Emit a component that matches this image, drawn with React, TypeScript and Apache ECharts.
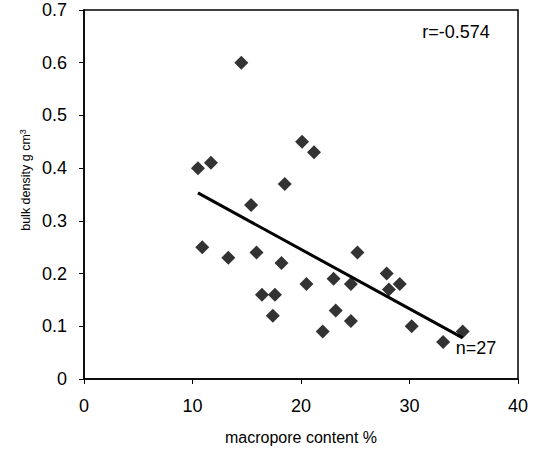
import React, { useEffect, useRef } from "react";
import * as echarts from "echarts";

const macropore = [
  14.5, 10.5, 11.7, 20.1, 21.2, 18.5, 15.4, 10.9, 13.3, 15.9, 18.2, 16.4, 17.6, 17.4,
  20.5, 23.0, 23.2, 22.0, 24.6, 24.6, 25.2, 27.9, 28.1, 29.1, 30.2, 33.1, 34.9,
];
const bulkDensity = [
  0.6, 0.4, 0.41, 0.45, 0.43, 0.37, 0.33, 0.25, 0.23, 0.24, 0.22, 0.16, 0.16, 0.12,
  0.18, 0.19, 0.13, 0.09, 0.18, 0.11, 0.24, 0.2, 0.17, 0.18, 0.1, 0.07, 0.09,
];
const trendX = [10.5, 34.9];
const trendY = [0.353, 0.078];
const rText = "r=-0.574";
const nText = "n=27";
const xName = "macropore content %";
const yName = "bulk density g cm";
const ySup = "3";

const FONT = "Liberation Sans, Arial, sans-serif";

export default function App() {
  const ref = useRef<HTMLDivElement>(null);
  useEffect(() => {
    if (!ref.current) return;
    const chart = echarts.init(ref.current, null, { renderer: "svg" });
    chart.setOption({
      animation: false,
      backgroundColor: "#fff",
      textStyle: { fontFamily: FONT },
      grid: {
        left: 84,
        right: 22,
        top: 10,
        bottom: 70,
        show: true,
        borderColor: "#000",
        borderWidth: 1.5,
      },
      xAxis: {
        type: "value",
        min: 0,
        max: 40,
        interval: 10,
        name: xName,
        nameLocation: "middle",
        nameGap: 50,
        nameTextStyle: { fontSize: 16, color: "#000", fontFamily: FONT },
        axisLine: { show: true, lineStyle: { color: "#000", width: 1.5 } },
        axisTick: { show: true, inside: false, length: 5, lineStyle: { color: "#000" } },
        axisLabel: { fontSize: 18, color: "#000", margin: 18, fontFamily: FONT },
        splitLine: { show: false },
      },
      yAxis: {
        type: "value",
        min: 0,
        max: 0.7,
        interval: 0.1,
        axisLine: { show: true, lineStyle: { color: "#000", width: 1.5 } },
        axisTick: { show: true, inside: false, length: 5, lineStyle: { color: "#000" } },
        axisLabel: { fontSize: 18, color: "#000", margin: 17, fontFamily: FONT },
        splitLine: { show: false },
      },
      graphic: [
        {
          type: "text",
          x: 26,
          y: 180,
          rotation: Math.PI / 2,
          style: {
            text: `{a|${yName}}{s|${ySup}}`,
            align: "center",
            verticalAlign: "middle",
            fill: "#000",
            rich: {
              a: { fontSize: 12.5, fontFamily: FONT, fill: "#000", lineHeight: 16 },
              s: { fontSize: 9, fontFamily: FONT, fill: "#000", verticalAlign: "top", lineHeight: 16 },
            },
          },
        },
        {
          type: "text",
          x: 456,
          y: 32,
          style: {
            text: rText,
            align: "center",
            verticalAlign: "middle",
            fontSize: 18,
            fontFamily: FONT,
            fill: "#000",
          },
        },
        {
          type: "text",
          x: 476,
          y: 348,
          style: {
            text: nText,
            align: "center",
            verticalAlign: "middle",
            fontSize: 18,
            fontFamily: FONT,
            fill: "#000",
          },
        },
      ],
      series: [
        {
          type: "line",
          data: trendX.map((x, i) => [x, trendY[i]]),
          symbol: "none",
          lineStyle: { color: "#000", width: 3 },
          z: 2,
        },
        {
          type: "scatter",
          data: macropore.map((x, i) => [x, bulkDensity[i]]),
          symbol: "diamond",
          symbolSize: 14,
          itemStyle: { color: "#000" },
          z: 3,
        },
      ],
    });
    return () => chart.dispose();
  }, []);
  return (
    <div
      ref={ref}
      style={{ position: "fixed", left: 0, top: 0, width: 540, height: 450 }}
    />
  );
}
